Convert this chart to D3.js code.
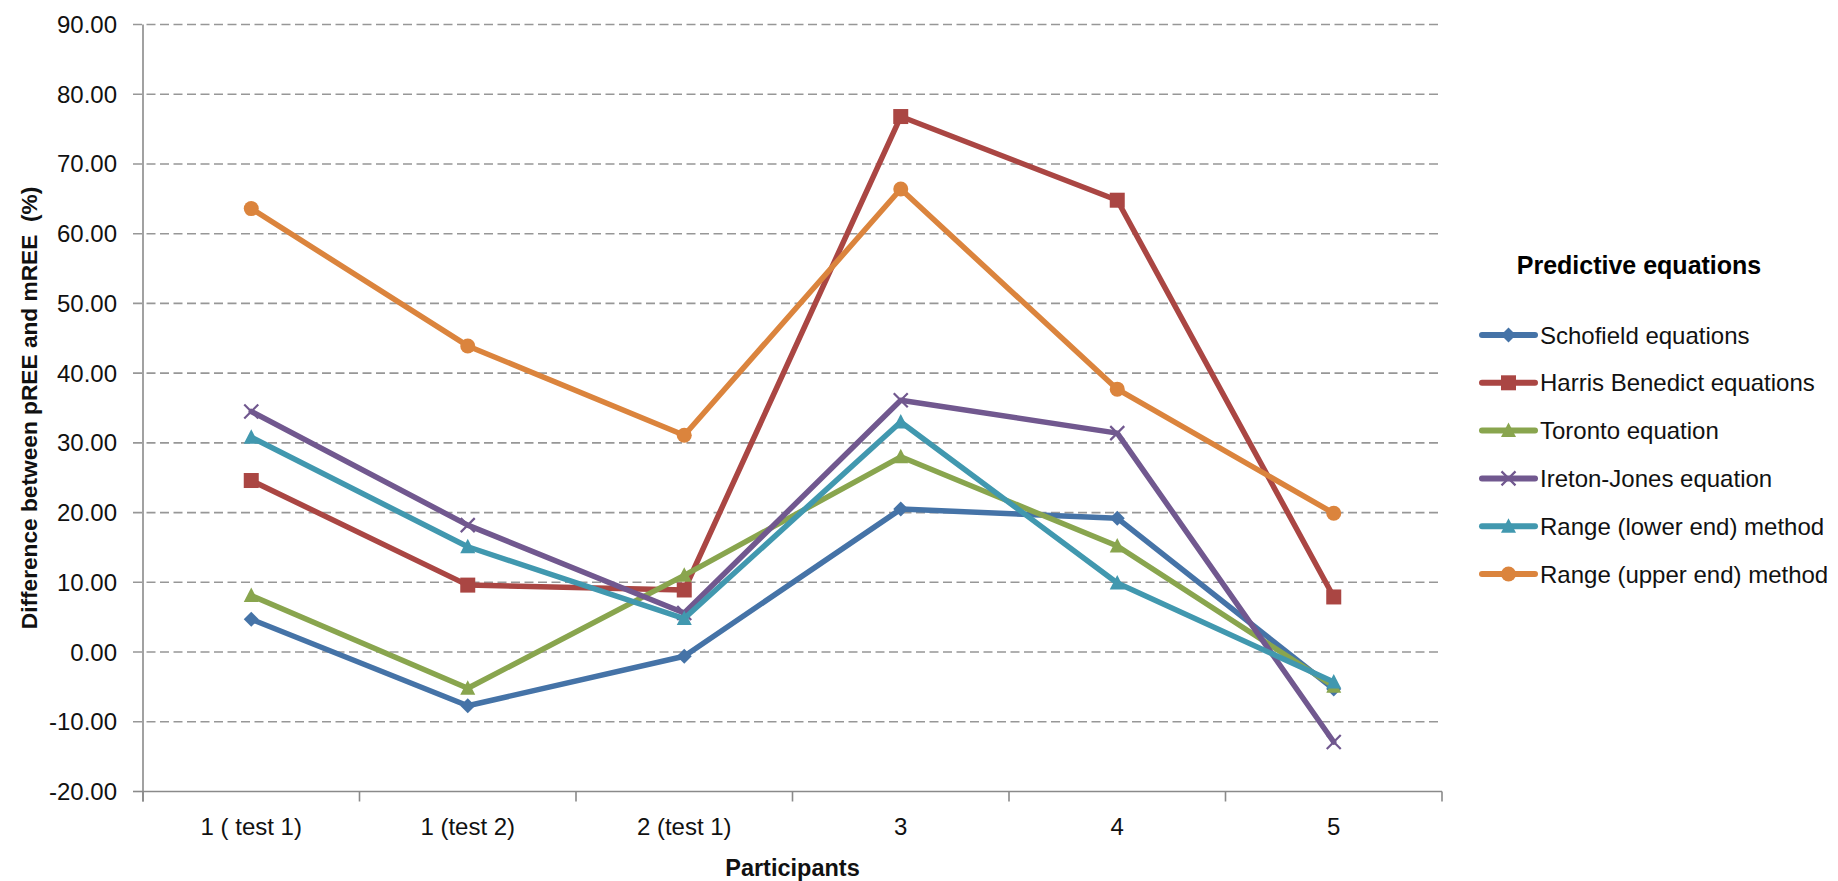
<!DOCTYPE html>
<html>
<head>
<meta charset="utf-8">
<script src="https://cdn.jsdelivr.net/npm/d3@7"></script>
<style>
  html, body { margin: 0; padding: 0; background: #fff; }
  svg { display: block; font-family: "Liberation Sans", Arial, sans-serif; }
</style>
</head>
<body>
<svg id="chart" width="1838" height="881"></svg>
<script>
// Participants (x categories)
const categories = ["1 ( test 1)", "1 (test 2)", "2 (test 1)", "3", "4", "5"];

// Difference between predicted and measured REE (%) per equation
const schofield      = [4.7, -7.7, -0.6, 20.5, 19.2, -5.3];
const harrisBenedict = [24.6, 9.6, 8.9, 76.8, 64.8, 7.9];
const toronto        = [8.1, -5.2, 11.0, 28.0, 15.2, -4.9];
const iretonJones    = [34.5, 18.2, 5.6, 36.1, 31.4, -12.9];
const rangeLower     = [30.8, 15.1, 4.8, 33.0, 9.9, -4.3];
const rangeUpper     = [63.6, 43.9, 31.1, 66.4, 37.7, 19.9];

const seriesNames = [
  "Schofield equations",
  "Harris Benedict equations",
  "Toronto equation",
  "Ireton-Jones equation",
  "Range (lower end) method",
  "Range (upper end) method"
];

// y-axis tick values
const yTicks = [-20, -10, 0, 10, 20, 30, 40, 50, 60, 70, 80, 90];

const series = [
  { name: seriesNames[0], values: schofield,      color: "#4573A7", marker: "diamond" },
  { name: seriesNames[1], values: harrisBenedict, color: "#AA4643", marker: "square" },
  { name: seriesNames[2], values: toronto,        color: "#89A54E", marker: "triangle" },
  { name: seriesNames[3], values: iretonJones,    color: "#71588F", marker: "x" },
  { name: seriesNames[4], values: rangeLower,     color: "#4198AF", marker: "triangle" },
  { name: seriesNames[5], values: rangeUpper,     color: "#DB843D", marker: "circle" }
];

const svg = d3.select("#chart");

const plot = { left: 143, right: 1442, top: 24.5, bottom: 791.5 };

const x = d3.scaleBand().domain(categories).range([plot.left, plot.right]).padding(0);
const y = d3.scaleLinear().domain([-20, 90]).range([plot.bottom, plot.top]);
const cx = c => x(c) + x.bandwidth() / 2;

// horizontal gridlines (dashed) and y tick labels
const grid = svg.append("g");
yTicks.forEach(t => {
  if (t !== -20) {
    grid.append("line")
      .attr("x1", plot.left - 10).attr("x2", plot.right)
      .attr("y1", y(t)).attr("y2", y(t))
      .attr("stroke", "#979797").attr("stroke-width", 1.6)
      .attr("stroke-dasharray", "9,4.5");
  } else {
    grid.append("line")
      .attr("x1", plot.left - 10).attr("x2", plot.left)
      .attr("y1", y(t)).attr("y2", y(t))
      .attr("stroke", "#8a8a8a").attr("stroke-width", 1.6);
  }
  svg.append("text")
    .attr("x", 117).attr("y", y(t))
    .attr("text-anchor", "end")
    .attr("dominant-baseline", "central")
    .attr("font-size", 24)
    .attr("fill", "#111")
    .text(t.toFixed(2));
});

// axes lines
svg.append("line")
  .attr("x1", plot.left).attr("x2", plot.left)
  .attr("y1", plot.top).attr("y2", plot.bottom + 10)
  .attr("stroke", "#8a8a8a").attr("stroke-width", 1.6);
svg.append("line")
  .attr("x1", plot.left).attr("x2", plot.right)
  .attr("y1", plot.bottom).attr("y2", plot.bottom)
  .attr("stroke", "#8a8a8a").attr("stroke-width", 1.6);

// category boundary ticks
const bounds = categories.map(c => x(c)).concat([x(categories[categories.length - 1]) + x.bandwidth()]);
bounds.forEach(b => {
  svg.append("line")
    .attr("x1", b).attr("x2", b)
    .attr("y1", plot.bottom).attr("y2", plot.bottom + 10)
    .attr("stroke", "#8a8a8a").attr("stroke-width", 1.6);
});

// category labels
categories.forEach(c => {
  svg.append("text")
    .attr("x", cx(c)).attr("y", 826)
    .attr("text-anchor", "middle")
    .attr("dominant-baseline", "central")
    .attr("font-size", 24)
    .attr("fill", "#111")
    .text(c);
});

// axis titles
svg.append("text")
  .attr("x", (plot.left + plot.right) / 2).attr("y", 876)
  .attr("text-anchor", "middle")
  .attr("font-size", 23.5).attr("font-weight", "bold")
  .attr("fill", "#111")
  .text("Participants");

svg.append("text")
  .attr("transform", "translate(37,408) rotate(-90)")
  .attr("text-anchor", "middle")
  .attr("font-size", 22.7).attr("font-weight", "bold")
  .attr("fill", "#111")
  .attr("xml:space", "preserve")
  .style("white-space", "pre")
  .text("Difference between pREE and mREE  (%)");

// marker drawing
function drawMarker(g, type, px, py, color) {
  if (type === "circle") {
    g.append("circle").attr("cx", px).attr("cy", py).attr("r", 7.5).attr("fill", color);
  } else if (type === "square") {
    g.append("rect").attr("x", px - 7.5).attr("y", py - 7.5)
      .attr("width", 15).attr("height", 15).attr("fill", color);
  } else if (type === "diamond") {
    const p = d3.path();
    p.moveTo(px, py - 7.5); p.lineTo(px + 7.5, py); p.lineTo(px, py + 7.5); p.lineTo(px - 7.5, py); p.closePath();
    g.append("path").attr("d", p.toString()).attr("fill", color);
  } else if (type === "triangle") {
    const p = d3.path();
    p.moveTo(px, py - 8); p.lineTo(px + 7.5, py + 6.5); p.lineTo(px - 7.5, py + 6.5); p.closePath();
    g.append("path").attr("d", p.toString()).attr("fill", color);
  } else if (type === "x") {
    const p = d3.path();
    p.moveTo(px - 7, py - 7); p.lineTo(px + 7, py + 7);
    p.moveTo(px + 7, py - 7); p.lineTo(px - 7, py + 7);
    g.append("path").attr("d", p.toString()).attr("stroke", color)
      .attr("stroke-width", 2.2).attr("fill", "none");
  }
}

// series lines and markers
const line = d3.line().x((d, i) => cx(categories[i])).y(d => y(d));
series.forEach(s => {
  const g = svg.append("g");
  g.append("path")
    .attr("d", line(s.values))
    .attr("fill", "none")
    .attr("stroke", s.color)
    .attr("stroke-width", 5.5)
    .attr("stroke-linejoin", "round")
    .attr("stroke-linecap", "round");
  s.values.forEach((v, i) => drawMarker(g, s.marker, cx(categories[i]), y(v), s.color));
});

// legend
const legend = svg.append("g");
legend.append("text")
  .attr("x", 1639).attr("y", 274)
  .attr("text-anchor", "middle")
  .attr("font-size", 25).attr("font-weight", "bold")
  .attr("fill", "#000")
  .text("Predictive equations");

series.forEach((s, i) => {
  const ly = 335 + i * 47.8;
  legend.append("line")
    .attr("x1", 1482).attr("x2", 1535)
    .attr("y1", ly).attr("y2", ly)
    .attr("stroke", s.color).attr("stroke-width", 6)
    .attr("stroke-linecap", "round");
  drawMarker(legend, s.marker, 1508.5, ly, s.color);
  legend.append("text")
    .attr("x", 1540).attr("y", ly)
    .attr("dominant-baseline", "central")
    .attr("font-size", 24)
    .attr("fill", "#111")
    .text(s.name);
});
</script>
</body>
</html>
